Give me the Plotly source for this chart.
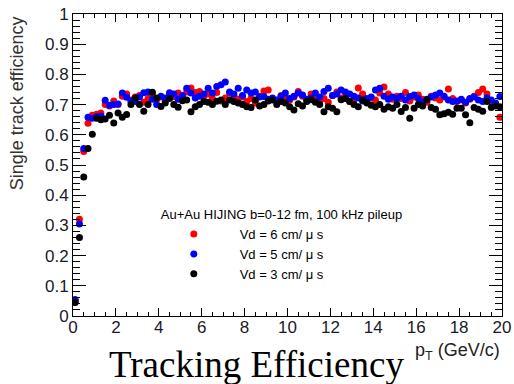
import plotly.graph_objects as go

# pT bin centres (0.2 GeV/c bins from 0 to 20)
pt = [round(0.1 + 0.2 * i, 1) for i in range(100)]

eff_vd6 = [
    0.05, 0.32, 0.545, 0.638, 0.665, 0.668, 0.672, 0.70, 0.695, 0.712,
    0.70, 0.728, 0.735, 0.715, 0.725, 0.73, 0.708, 0.72, 0.735, 0.718,
    0.725, 0.712, 0.732, 0.726, 0.738, 0.722, 0.742, 0.755, 0.74, 0.743,
    0.728, 0.735, 0.72, 0.74, 0.712, 0.722, 0.738, 0.73, 0.718, 0.725,
    0.71, 0.72, 0.705, 0.728, 0.745, 0.748, 0.72, 0.712, 0.73, 0.722,
    0.715, 0.725, 0.743, 0.728, 0.718, 0.735, 0.725, 0.712, 0.72, 0.708,
    0.73, 0.742, 0.722, 0.728, 0.71, 0.718, 0.755, 0.735, 0.712, 0.722,
    0.715, 0.738, 0.758, 0.735, 0.718, 0.728, 0.72, 0.74, 0.712, 0.725,
    0.732, 0.718, 0.708, 0.728, 0.722, 0.715, 0.725, 0.752, 0.72, 0.71,
    0.715, 0.705, 0.718, 0.728, 0.74, 0.752, 0.735, 0.712, 0.70, 0.658,
]

eff_vd5 = [
    0.055, 0.305, 0.555, 0.658, 0.655, 0.66, 0.662, 0.714, 0.698, 0.70,
    0.702, 0.738, 0.724, 0.712, 0.71, 0.725, 0.739, 0.742, 0.718, 0.70,
    0.728, 0.722, 0.739, 0.735, 0.718, 0.73, 0.754, 0.738, 0.722, 0.728,
    0.735, 0.754, 0.738, 0.76, 0.766, 0.775, 0.742, 0.735, 0.754, 0.73,
    0.748, 0.738, 0.742, 0.725, 0.727, 0.718, 0.722, 0.715, 0.728, 0.738,
    0.72, 0.728, 0.738, 0.732, 0.718, 0.722, 0.738, 0.725, 0.743, 0.754,
    0.73, 0.735, 0.748, 0.742, 0.735, 0.728, 0.722, 0.712, 0.72, 0.725,
    0.748, 0.754, 0.728, 0.718, 0.725, 0.72, 0.728, 0.715, 0.727, 0.732,
    0.72, 0.708, 0.718, 0.725, 0.732, 0.738, 0.728, 0.715, 0.71, 0.712,
    0.718, 0.708, 0.72, 0.725, 0.715, 0.71, 0.722, 0.715, 0.705, 0.727,
]

eff_vd3 = [
    0.045, 0.26, 0.46, 0.555, 0.602, 0.655, 0.65, 0.652, 0.665, 0.639,
    0.672, 0.658, 0.667, 0.70, 0.722, 0.70, 0.678, 0.70, 0.741, 0.722,
    0.694, 0.705, 0.72, 0.70, 0.691, 0.713, 0.715, 0.676, 0.693, 0.70,
    0.71, 0.708, 0.70, 0.711, 0.715, 0.70, 0.715, 0.71, 0.705, 0.70,
    0.693, 0.69, 0.715, 0.695, 0.70, 0.712, 0.715, 0.70, 0.71, 0.705,
    0.693, 0.682, 0.703, 0.695, 0.71, 0.716, 0.708, 0.70, 0.676, 0.693,
    0.688, 0.676, 0.716, 0.72, 0.71, 0.70, 0.693, 0.715, 0.705, 0.698,
    0.693, 0.70, 0.685, 0.693, 0.688, 0.70, 0.677, 0.69, 0.655, 0.688,
    0.70, 0.695, 0.716, 0.69, 0.685, 0.666, 0.67, 0.675, 0.668, 0.688,
    0.688, 0.666, 0.64, 0.69, 0.685, 0.678, 0.71, 0.69, 0.695, 0.693,
]

series_names = ["Vd = 6 cm/ μ s", "Vd = 5 cm/ μ s", "Vd = 3 cm/ μ s"]
series_values = [eff_vd6, eff_vd5, eff_vd3]
series_colors = ["#ff0000", "#0000ff", "#000000"]

legend_title = "Au+Au HIJING b=0-12 fm, 100 kHz pileup"
x_title = "p<sub>T</sub> (GeV/c)"
y_title = "Single track efficiency"
caption = "Tracking Efficiency"
y_tickvals = [0, 0.1, 0.2, 0.3, 0.4, 0.5, 0.6, 0.7, 0.8, 0.9, 1]
y_ticktext = ["0", "0.1", "0.2", "0.3", "0.4", "0.5", "0.6", "0.7", "0.8", "0.9", "1"]

SANS = "Liberation Sans, Arial, Helvetica, sans-serif"
SERIF = "Liberation Serif, Times New Roman, serif"
PAD = "\u00a0" * 3

fig = go.Figure()
for name, vals, col in zip(series_names, series_values, series_colors):
    fig.add_trace(go.Scatter(
        x=pt, y=vals, mode="markers", name=PAD + name,
        marker=dict(color=col, size=7, line=dict(width=0)),
    ))

axis_common = dict(
    showgrid=False, zeroline=False, showline=True, linecolor="black",
    linewidth=1, mirror="allticks", ticks="inside", tickcolor="black",
    tickwidth=1, automargin=False,
    tickfont=dict(family=SANS, size=17, color="#1a1a2a"),
)

fig.update_xaxes(
    range=[0, 20], tick0=0, dtick=2, ticklen=8, ticklabelstandoff=-4,
    minor=dict(dtick=0.5, ticklen=4, ticks="inside", tickcolor="black"),
    **axis_common,
)
fig.update_yaxes(
    range=[0, 1], tickvals=y_tickvals, ticktext=y_ticktext, ticklen=13,
    minor=dict(dtick=0.02, ticklen=7, ticks="inside", tickcolor="black"),
    **axis_common,
)

fig.update_layout(
    width=514, height=384,
    margin=dict(l=73, r=12, t=14, b=68, autoexpand=False),
    paper_bgcolor="white", plot_bgcolor="white",
    font=dict(family=SANS, color="black"),
    showlegend=True,
    legend=dict(
        x=0.2, y=0.377, xanchor="left", yanchor="top",
        bgcolor="rgba(0,0,0,0)", borderwidth=0,
        title=dict(text=legend_title, font=dict(family=SANS, size=13, color="black"), side="top"),
        font=dict(family=SANS, size=13, color="black"),
        itemwidth=60, tracegroupgap=0,
    ),
    annotations=[
        dict(text=y_title, xref="paper", yref="paper", x=-0.13, y=1.0,
             xanchor="center", yanchor="top", textangle=-90, showarrow=False,
             font=dict(family=SANS, size=18, color="#333333")),
        dict(text=x_title, xref="paper", yref="paper", x=1.0, y=-0.118,
             xanchor="right", yanchor="middle", showarrow=False,
             font=dict(family=SANS, size=18, color="#222222")),
        dict(text=caption, xref="paper", yref="paper", x=0.4266, y=-0.16,
             xanchor="center", yanchor="middle", showarrow=False,
             font=dict(family=SERIF, size=37, color="black")),
    ],
)

fig.write_html("out.html", config={"displayModeBar": False},
               post_script="document.body.style.margin='0';")
